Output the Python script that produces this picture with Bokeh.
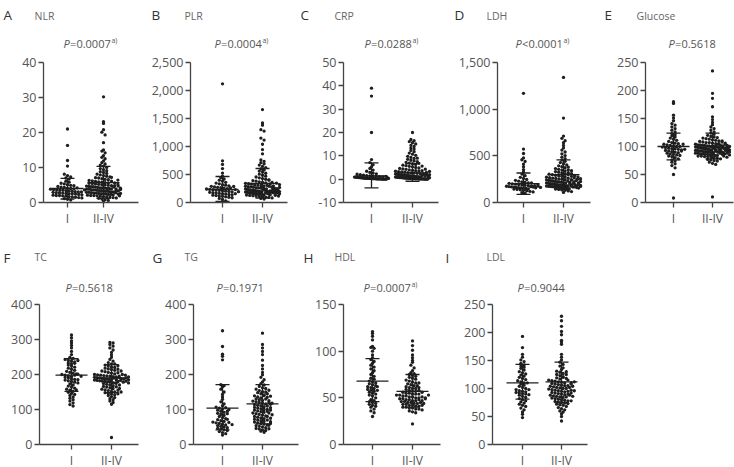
from bokeh.plotting import figure
from bokeh.models import Range1d, FixedTicker, Label, NumeralTickFormatter, ColumnDataSource
from bokeh.layouts import row, column
from bokeh.embed import file_html
from bokeh.resources import INLINE

# ---------------- data ----------------
groups = ["I", "II-IV"]

nlr_i = [21.0, 16.3, 12.0, 10.4, 8.1, 7.7, 7.3, 7.0, 6.7, 6.1, 5.8, 5.5, 5.3, 5.1, 4.9, 4.8, 4.6, 4.4, 4.3, 4.1,
         4.0, 3.9, 3.8, 3.7, 3.6, 3.5, 3.5, 3.4, 3.3, 3.2, 3.1, 3.0, 3.0, 2.9, 2.8, 2.8, 2.7, 2.6, 2.5, 2.5,
         2.4, 2.3, 2.2, 2.1, 2.0, 2.0, 1.9, 1.8, 1.7, 1.6, 1.5, 1.4, 1.3, 1.1, 0.9, 0.7, 3.6, 4.2]
nlr_ii = [30.2, 23.1, 22.6, 20.8, 20.1, 19.3, 17.1, 15.0, 14.7, 14.2, 13.4, 12.9, 12.5, 11.9, 11.4, 11.0, 10.7,
          10.4, 10.0, 9.7, 9.4, 9.1, 8.8, 8.6, 8.3, 8.1, 7.9, 7.7, 7.5, 7.3, 7.1, 7.0, 6.8, 6.6, 6.5, 6.3, 6.2,
          6.0, 5.9, 5.8, 5.7, 5.6, 5.5, 5.4, 5.3, 5.2, 5.1, 5.0, 4.9, 4.8, 4.8, 4.7, 4.6, 4.5, 4.5, 4.4, 4.3,
          4.2, 4.2, 4.1, 4.0, 4.0, 3.9, 3.8, 3.8, 3.7, 3.6, 3.6, 3.5, 3.4, 3.4, 3.3, 3.2, 3.2, 3.1, 3.0, 3.0,
          2.9, 2.9, 2.8, 2.7, 2.7, 2.6, 2.5, 2.5, 2.4, 2.3, 2.3, 2.2, 2.1, 2.0, 2.0, 1.9, 1.8, 1.7, 1.6, 1.5,
          1.4, 1.3, 1.2, 1.0, 0.8, 0.6, 0.4, 4.4, 3.9, 3.5, 5.2, 6.1, 2.8, 3.3, 4.7, 5.6, 7.2, 2.4, 3.7, 4.1,
          6.4, 1.9, 2.6]
nlr_mean = [4.0, 5.7]
nlr_sd_hi = [6.9, 10.3]
nlr_sd_lo = [1.0, 1.2]
nlr_ticks = [0, 10, 20, 30, 40]

plr_i = [2120, 745, 680, 605, 525, 470, 445, 420, 398, 382, 361, 347, 333, 318, 309, 297, 288, 279, 271, 264,
         255, 249, 241, 236, 228, 221, 215, 209, 202, 196, 189, 182, 176, 170, 163, 157, 150, 143, 137, 130,
         124, 117, 110, 102, 94, 85, 72, 55, 30, 12, 262, 231, 194, 158, 286]
plr_ii = [1660, 1420, 1380, 1300, 1275, 1150, 1115, 1040, 945, 870, 760, 735, 712, 690, 668, 645, 622, 598, 582,
          561, 543, 522, 505, 488, 470, 455, 441, 428, 415, 403, 392, 381, 370, 361, 352, 343, 335, 327, 319,
          311, 304, 297, 290, 284, 278, 272, 266, 260, 255, 250, 245, 240, 235, 230, 226, 222, 218, 214, 210,
          206, 202, 198, 194, 190, 186, 182, 178, 174, 170, 166, 162, 158, 154, 150, 146, 142, 137, 132, 127,
          122, 116, 110, 104, 97, 90, 82, 73, 62, 305, 290, 275, 262, 248, 236, 224, 212, 200, 188, 176, 164,
          152, 140, 128, 116, 208, 196, 184, 172, 400, 360, 330, 298, 268, 240, 220, 202, 185, 168, 230, 215,
          195, 175, 155, 345, 320]
plr_mean = [232, 340]
plr_sd_hi = [464, 607]
plr_sd_lo = [20, 80]
plr_ticks = [0, 500, 1000, 1500, 2000, 2500]

crp_i = [39.0, 35.6, 20.0, 8.4, 7.1, 6.2, 5.3, 4.6, 3.9, 3.4, 2.9, 2.6, 2.3, 2.1, 1.9, 1.7, 1.5, 1.4, 1.3, 1.2,
         1.1, 1.0, 0.9, 0.9, 0.8, 0.8, 0.7, 0.7, 0.6, 0.6, 0.5, 0.5, 0.4, 0.4, 0.4, 0.3, 0.3, 0.3, 0.2, 0.2,
         0.2, 0.2, 0.1, 0.1, 0.1, 0.1, 0.1, 0.0, 0.0, 0.0, 0.0, 0.0, 0.6, 1.2, 0.3]
crp_ii = [20.0, 17.0, 16.5, 16.1, 15.6, 15.1, 14.5, 14.0, 13.4, 12.9, 12.3, 11.8, 11.2, 10.7, 10.2, 9.8, 9.3,
          8.9, 8.5, 8.1, 7.8, 7.5, 7.2, 6.9, 6.6, 6.3, 6.0, 5.8, 5.5, 5.3, 5.0, 4.8, 4.6, 4.4, 4.2, 4.0, 3.8,
          3.7, 3.5, 3.4, 3.2, 3.1, 3.0, 2.8, 2.7, 2.6, 2.5, 2.4, 2.3, 2.2, 2.1, 2.0, 1.9, 1.8, 1.8, 1.7, 1.6,
          1.5, 1.5, 1.4, 1.3, 1.3, 1.2, 1.1, 1.1, 1.0, 1.0, 0.9, 0.9, 0.8, 0.8, 0.7, 0.7, 0.7, 0.6, 0.6, 0.5,
          0.5, 0.5, 0.4, 0.4, 0.4, 0.3, 0.3, 0.3, 0.3, 0.2, 0.2, 0.2, 0.2, 0.1, 0.1, 0.1, 0.1, 0.1, 0.0, 0.0,
          0.0, 0.0, 2.9, 3.6, 4.3, 1.6, 2.2, 0.8, 1.2, 5.6, 6.8, 9.0, 2.0, 3.3, 1.4, 0.6, 1.9]
crp_mean = [1.4, 2.7]
crp_sd_hi = [7.0, 6.7]
crp_sd_lo = [-3.7, -0.9]
crp_ticks = [-10, 0, 10, 20, 30, 40, 50]

ldh_i = [1170, 572, 525, 478, 458, 440, 412, 383, 352, 326, 305, 287, 270, 258, 247, 238, 229, 222, 216, 210,
         205, 200, 196, 192, 188, 184, 180, 177, 174, 171, 168, 165, 162, 159, 156, 153, 150, 147, 144, 140,
         136, 131, 126, 120, 113, 105, 97, 180, 170, 165, 190, 210, 158, 175, 162]
ldh_ii = [1340, 905, 712, 688, 662, 640, 612, 585, 562, 541, 522, 503, 486, 470, 455, 441, 428, 416, 404, 393,
          383, 373, 364, 355, 347, 339, 331, 324, 317, 310, 304, 298, 292, 286, 281, 276, 271, 266, 261, 257,
          253, 249, 245, 241, 237, 233, 229, 226, 223, 220, 217, 214, 211, 208, 205, 202, 199, 196, 193, 190,
          188, 186, 184, 182, 180, 178, 176, 174, 172, 170, 168, 166, 164, 162, 160, 157, 154, 151, 148, 144,
          140, 135, 130, 124, 117, 108, 300, 280, 260, 245, 230, 215, 200, 185, 175, 165, 350, 320, 290, 265,
          240, 220, 205, 190, 178, 168, 160, 155, 250, 235, 210, 195, 182, 172, 380, 340, 310, 275, 255, 225]
ldh_mean = [202, 298]
ldh_sd_hi = [316, 457]
ldh_sd_lo = [88, 140]
ldh_ticks = [0, 500, 1000, 1500]

glu_i = [180, 177, 156, 151, 146, 141, 138, 135, 132, 129, 126, 123, 121, 119, 117, 115, 113, 111, 109, 107,
         106, 105, 104, 103, 102, 101, 100, 99, 98, 97, 96, 96, 95, 94, 93, 92, 91, 90, 89, 88, 87, 86, 85,
         84, 83, 82, 80, 78, 76, 74, 72, 69, 66, 62, 50, 8, 100, 95, 92, 104]
glu_ii = [235, 195, 186, 171, 153, 148, 143, 139, 135, 132, 129, 126, 124, 122, 120, 118, 117, 116, 115, 114,
          113, 112, 111, 110, 109, 108, 107, 107, 106, 105, 105, 104, 103, 103, 102, 102, 101, 101, 100, 100,
          99, 99, 98, 98, 97, 97, 96, 96, 95, 95, 94, 94, 93, 93, 92, 92, 91, 91, 90, 90, 89, 89, 88, 88, 87,
          87, 86, 86, 85, 85, 84, 84, 83, 83, 82, 82, 81, 80, 79, 78, 77, 76, 75, 74, 72, 70, 68, 10, 100, 98,
          96, 94, 92, 90, 88, 86, 104, 102, 99, 97, 95, 93, 91, 89, 87, 101, 99, 97, 95, 93, 110, 108, 106,
          104, 102, 100, 98, 96, 94, 92, 90, 88, 85, 83, 81]
glu_mean = [100, 99]
glu_sd_hi = [124, 124]
glu_sd_lo = [76, 78]
glu_ticks = [0, 50, 100, 150, 200, 250]

tc_i = [313, 305, 296, 290, 283, 276, 266, 257, 249, 246, 243, 240, 238, 236, 233, 230, 227, 224, 221, 218,
        215, 212, 209, 206, 204, 202, 200, 198, 196, 194, 192, 190, 188, 186, 184, 182, 180, 178, 176, 173,
        170, 167, 164, 161, 158, 155, 152, 149, 146, 143, 140, 136, 132, 128, 124, 119, 114, 110, 198, 201,
        195, 240, 232, 156, 185]
tc_ii = [292, 290, 286, 281, 276, 270, 263, 256, 249, 243, 238, 234, 230, 227, 224, 221, 218, 216, 214, 212,
         210, 208, 206, 204, 202, 200, 199, 198, 197, 196, 195, 194, 193, 192, 191, 190, 189, 188, 187, 186,
         185, 184, 183, 182, 181, 180, 179, 178, 177, 176, 174, 172, 170, 168, 166, 164, 162, 160, 158, 156,
         154, 152, 150, 148, 146, 144, 142, 140, 137, 134, 131, 128, 124, 120, 115, 20, 195, 190, 185, 180,
         175, 170, 200, 205, 210, 192, 188, 183, 178, 165, 160, 155, 215, 220, 198, 193, 187, 181, 176, 150,
         145, 225, 230, 190, 185]
tc_mean = [198, 190]
tc_sd_hi = [245, 228]
tc_sd_lo = [152, 148]
tc_ticks = [0, 100, 200, 300, 400]

tg_i = [325, 280, 258, 252, 242, 171, 168, 165, 158, 150, 143, 136, 129, 122, 116, 111, 107, 104, 101, 98, 95,
        92, 89, 86, 83, 80, 77, 74, 71, 68, 66, 64, 62, 60, 58, 56, 54, 52, 50, 48, 46, 44, 42, 40, 37, 34,
        31, 27, 105, 95, 88, 72, 63, 57, 100]
tg_ii = [318, 286, 276, 266, 257, 241, 226, 216, 206, 199, 192, 185, 179, 174, 170, 166, 162, 158, 154, 151,
         148, 145, 142, 139, 136, 133, 130, 128, 126, 124, 122, 120, 118, 116, 114, 112, 110, 108, 106, 104,
         102, 100, 98, 96, 94, 92, 90, 88, 86, 84, 82, 80, 78, 76, 74, 72, 70, 68, 66, 64, 62, 60, 58, 56, 54,
         52, 50, 48, 46, 44, 42, 40, 38, 35, 150, 140, 130, 120, 110, 100, 90, 80, 70, 60, 145, 135, 125, 115,
         105, 95, 85, 75, 65, 55, 45, 160, 155, 138, 118, 98]
tg_mean = [104, 116]
tg_sd_hi = [171, 171]
tg_sd_lo = [42, 59]
tg_ticks = [0, 100, 200, 300, 400]

hdl_i = [121, 119, 116, 112, 105, 104, 103, 100, 96, 93, 91, 89, 87, 85, 83, 81, 79, 77, 75, 73, 71, 70, 68,
         67, 66, 65, 64, 63, 62, 61, 60, 59, 58, 57, 56, 55, 54, 53, 52, 50, 48, 47, 46, 45, 44, 43, 42, 41,
         40, 38, 36, 34, 30, 62, 58]
hdl_ii = [111, 106, 101, 96, 93, 90, 88, 85, 82, 79, 77, 76, 75, 74, 73, 72, 71, 70, 69, 68, 67, 66, 65, 64,
          63, 62, 61, 60, 59, 58, 57, 56, 55, 55, 54, 54, 53, 53, 52, 52, 51, 51, 50, 50, 49, 49, 48, 48, 47,
          47, 46, 46, 45, 45, 44, 44, 43, 43, 42, 42, 41, 41, 40, 40, 39, 39, 38, 38, 37, 36, 35, 34, 22, 60,
          57, 54, 51, 48, 45, 42, 66, 63, 58, 56, 50, 47, 44, 61, 53, 49]
hdl_mean = [68, 57]
hdl_sd_hi = [92, 75]
hdl_sd_lo = [46, 40]
hdl_ticks = [0, 50, 100, 150]

ldl_i = [193, 173, 161, 156, 151, 148, 145, 142, 140, 138, 136, 133, 130, 128, 126, 124, 122, 120, 118, 116,
         114, 112, 110, 108, 106, 104, 102, 100, 98, 96, 95, 94, 93, 92, 91, 90, 89, 88, 86, 84, 82, 80, 78,
         76, 74, 72, 70, 68, 65, 62, 58, 54, 48, 110, 98]
ldl_ii = [229, 221, 211, 202, 196, 186, 183, 179, 161, 156, 151, 147, 143, 140, 137, 134, 131, 129, 127, 125,
          123, 121, 119, 117, 115, 114, 113, 112, 111, 110, 109, 108, 107, 106, 105, 104, 103, 102, 101, 100,
          99, 98, 97, 96, 95, 94, 93, 92, 91, 90, 89, 88, 87, 86, 85, 84, 83, 82, 81, 80, 79, 78, 77, 76, 75,
          74, 73, 72, 71, 70, 68, 66, 64, 62, 60, 58, 55, 50, 42, 115, 110, 105, 100, 95, 90, 85, 120, 112,
          108, 102, 97, 92, 88, 125, 118, 104, 96, 86, 78, 130]
ldl_mean = [110, 112]
ldl_sd_hi = [143, 147]
ldl_sd_lo = [81, 75]
ldl_ticks = [0, 50, 100, 150, 200, 250]

panel_letters = ["A", "B", "C", "D", "E", "F", "G", "H", "I"]
panel_names = ["NLR", "PLR", "CRP", "LDH", "Glucose", "TC", "TG", "HDL", "LDL"]
p_ops = ["=", "=", "=", "<", "=", "=", "=", "=", "="]
p_values = ["0.0007", "0.0004", "0.0288", "0.0001", "0.5618", "0.5618", "0.1971", "0.0007", "0.9044"]
p_notes = [True, True, True, True, False, False, False, True, False]

series = [
    (nlr_i, nlr_ii, nlr_mean, nlr_sd_hi, nlr_sd_lo, nlr_ticks),
    (plr_i, plr_ii, plr_mean, plr_sd_hi, plr_sd_lo, plr_ticks),
    (crp_i, crp_ii, crp_mean, crp_sd_hi, crp_sd_lo, crp_ticks),
    (ldh_i, ldh_ii, ldh_mean, ldh_sd_hi, ldh_sd_lo, ldh_ticks),
    (glu_i, glu_ii, glu_mean, glu_sd_hi, glu_sd_lo, glu_ticks),
    (tc_i, tc_ii, tc_mean, tc_sd_hi, tc_sd_lo, tc_ticks),
    (tg_i, tg_ii, tg_mean, tg_sd_hi, tg_sd_lo, tg_ticks),
    (hdl_i, hdl_ii, hdl_mean, hdl_sd_hi, hdl_sd_lo, hdl_ticks),
    (ldl_i, ldl_ii, ldl_mean, ldl_sd_hi, ldl_sd_lo, ldl_ticks),
]

# ---------------- layout (page pixels) ----------------
PAGE_W = 734
# header strips carry the panel letters, names and P values
HEADERS = [
    dict(y0=0, h=50, letter_y=14, name_y=15, p_y=43),
    dict(y0=229, h=67, letter_y=257, name_y=256, p_y=287),
]
ROWS = [
    dict(y0=50, h=179, ft=62, fb=202),
    dict(y0=296, h=171, ft=304, fb=444),
]
# fig x0, fig x1, frame left, frame right, tick I, tick II-IV, letter x, name x, p x, row
BOXES = [
    (0, 145, 43, 138, 67, 103, 3, 34, 63, 0),
    (145, 297, 190, 287, 222, 262, 151, 184, 214, 0),
    (297, 445, 343, 438, 371, 412, 300, 334, 364, 0),
    (445, 597, 497, 590, 523, 563, 454, 486, 515, 0),
    (597, 734, 645, 733, 673, 712, 604, 636, 668, 0),
    (0, 145, 39, 138, 71, 111, 3, 34, 65, 1),
    (145, 300, 193, 298, 222, 262, 152, 184, 216, 1),
    (300, 447, 343, 440, 372, 412, 303, 334, 363, 1),
    (447, 600, 492, 587, 522, 561, 445, 486, 517, 1),
]

FONT = "Open Sans"
INK = "#1e1e1e"
AXIS = "#444444"
TEXT = "#555555"
DOT = 3.3


def swarm(vals, ppy, half=17.0):
    """Horizontal pixel offsets so points sharing a y-row sit side by side."""
    rows = {}
    for i, v in enumerate(vals):
        rows.setdefault(int(round(v * ppy / 3.0)), []).append(i)
    off = [0.0] * len(vals)
    for idx in rows.values():
        k = len(idx)
        if k < 2:
            continue
        step = min(3.2, 2 * half / (k - 1))
        for j, i in enumerate(idx):
            off[i] = (j - (k - 1) / 2) * step
    return off


def text_width(s, size):
    w = 0.0
    for ch in s:
        w += 0.266 if ch == "." else 0.572
    return w * size


def blank(width, height):
    f = figure(width=width, height=height, x_range=Range1d(0, width), y_range=Range1d(height, 0),
               min_border=0, x_axis_type=None, y_axis_type=None,
               output_backend="svg", toolbar_location=None, tools="")
    f.outline_line_color = None
    f.background_fill_color = "white"
    f.border_fill_color = "white"
    return f


headers = [blank(PAGE_W, HEADERS[0]["h"]), blank(PAGE_W, HEADERS[1]["h"])]
figs = [[], []]

for k in range(9):
    g1, g2, mean, hi, lo, ticks = series[k]
    fx0, fx1, fl, fr, t1, t2, lx, nx, px, r = BOXES[k]
    R = ROWS[r]
    ymin, ymax = ticks[0], ticks[-1]
    fh = R["fb"] - R["ft"]
    fw = fr - fl
    ppx = float(t2 - t1)
    ppy = fh / (ymax - ymin)
    xs = 1 - (t1 - fl) / ppx

    p = figure(width=fx1 - fx0, height=R["h"], frame_width=fw, frame_height=fh,
               min_border_left=fl - fx0, min_border_right=fx1 - fr,
               min_border_top=R["ft"] - R["y0"], min_border_bottom=R["y0"] + R["h"] - R["fb"],
               x_range=Range1d(xs, xs + fw / ppx), y_range=Range1d(ymin, ymax),
               output_backend="svg", toolbar_location=None, tools="")
    p.outline_line_color = None
    p.xgrid.visible = False
    p.ygrid.visible = False
    p.background_fill_color = "white"
    p.border_fill_color = "white"

    for ax in (p.xaxis[0], p.yaxis[0]):
        ax.axis_line_color = AXIS
        ax.axis_line_width = 1.3
        ax.major_tick_line_color = AXIS
        ax.major_tick_line_width = 1.3
        ax.major_tick_in = 0
        ax.major_tick_out = 5
        ax.minor_tick_line_color = None
        ax.major_label_text_font = FONT
        ax.major_label_text_color = TEXT
        ax.major_label_standoff = 2
    p.xaxis.major_label_text_font_size = "12px"
    p.yaxis.major_label_text_font_size = "12.5px"
    p.xaxis.ticker = FixedTicker(ticks=[1, 2])
    p.xaxis.major_label_overrides = {1: groups[0], 2: groups[1]}
    p.yaxis.ticker = FixedTicker(ticks=ticks)
    p.yaxis.formatter = NumeralTickFormatter(format="0,0")

    # dots, spread sideways where values crowd together
    xv, yv = [], []
    for gi, vals in enumerate((g1, g2)):
        offs = swarm([v - ymin for v in vals], ppy)
        for v, o in zip(vals, offs):
            xv.append(gi + 1 + o / ppx)
            yv.append(v)
    p.scatter(x="x", y="y", source=ColumnDataSource(dict(x=xv, y=yv)),
              size=DOT, color=INK, marker="circle", line_width=0)

    # mean line with SD whiskers
    mw, cw = 16 / ppx, 7 / ppx
    gx = [1, 2]
    seg = dict(line_color=INK, line_width=1.3)
    p.segment(x0=[g - mw for g in gx], x1=[g + mw for g in gx], y0=mean, y1=mean, **seg)
    p.segment(x0=gx, x1=gx, y0=lo, y1=hi, **seg)
    p.segment(x0=[g - cw for g in gx], x1=[g + cw for g in gx], y0=hi, y1=hi, **seg)
    p.segment(x0=[g - cw for g in gx], x1=[g + cw for g in gx], y0=lo, y1=lo, **seg)
    figs[r].append(p)

    # header texts for this panel
    H = HEADERS[r]
    h = headers[r]
    yy = lambda py: py - H["y0"]
    h.add_layout(Label(x=lx, y=yy(H["letter_y"]), text=panel_letters[k], text_font=FONT,
                       text_font_size="13.5px", text_color="#333333", text_baseline="middle"))
    h.add_layout(Label(x=nx, y=yy(H["name_y"]), text=panel_names[k], text_font=FONT,
                       text_font_size="10.5px", text_color="#666666", text_baseline="middle"))
    fs = 11
    h.add_layout(Label(x=px, y=yy(H["p_y"]), text="P", text_font=FONT, text_font_style="italic",
                       text_font_size=f"{fs}px", text_color=TEXT, text_baseline="middle"))
    rest = p_ops[k] + p_values[k]
    h.add_layout(Label(x=px + 6.6, y=yy(H["p_y"]), text=rest, text_font=FONT,
                       text_font_size=f"{fs}px", text_color=TEXT, text_baseline="middle"))
    if p_notes[k]:
        h.add_layout(Label(x=px + 7.2 + text_width(rest, fs), y=yy(H["p_y"] - 3.5), text="a)",
                           text_font=FONT, text_font_size="7px", text_color=TEXT,
                           text_baseline="middle"))

layout = column(headers[0], row(*figs[0], spacing=0), headers[1], row(*figs[1], spacing=0), spacing=0)
open("out.html", "w").write(file_html(layout, INLINE))
